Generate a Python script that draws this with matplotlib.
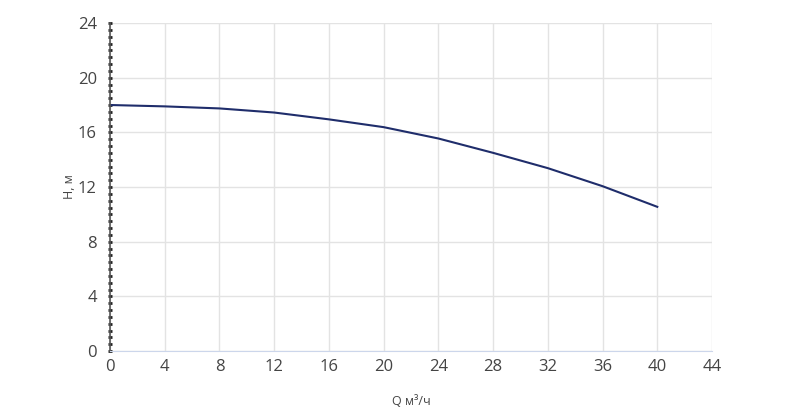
import matplotlib
matplotlib.use("Agg")
import matplotlib.pyplot as plt
import numpy as np

q = [0, 4, 8, 12, 16, 20, 24, 28, 32, 36, 40]
h = [18.0, 17.9, 17.75, 17.45, 16.95, 16.38, 15.55, 14.5, 13.38, 12.06, 10.55]
xticks = list(range(0, 45, 4))
yticks = list(range(0, 25, 4))

plt.rcParams['font.family'] = ['Open Sans', 'DejaVu Sans']
fig = plt.figure(figsize=(8, 4.08), dpi=100)
ax = fig.add_axes([0.1375, 0.1397, 0.7525, 0.8039])
ax.plot(q, h, color='#1f2d6b', lw=1.5)
ax.set_xlim(0, 44)
ax.set_ylim(0, 24)
ax.set_xticks(xticks)
ax.set_yticks(yticks)
ax.set_yticks(np.arange(0, 24.01, 0.5), minor=True)
ax.grid(True, color='#e3e3e3', lw=1)
for s in ['top', 'right']:
    ax.spines[s].set_visible(False)
ax.spines['left'].set_color('#555555')
ax.spines['left'].set_linewidth(1.2)
ax.spines['bottom'].set_color('#ccd6eb')
ax.tick_params(axis='y', which='both', direction='inout', length=3, width=2, color='#222222', labelsize=12, labelcolor='#444444', pad=8)
ax.tick_params(axis='x', length=0, labelsize=12, labelcolor='#444444', pad=6)
ax.set_xlabel('Q м³/ч', fontsize=9, color='#444444', labelpad=14)
ax.set_ylabel('H, м', fontsize=9, color='#444444', labelpad=1)
fig.savefig('out.png', dpi=100)
